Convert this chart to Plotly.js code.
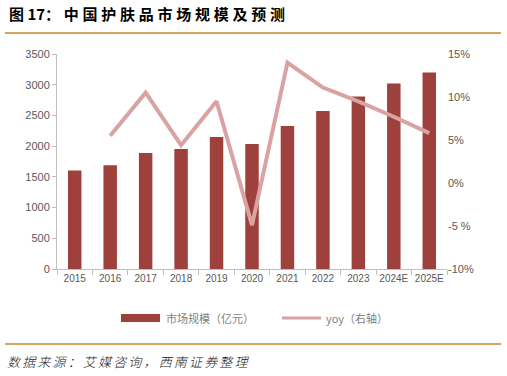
<!DOCTYPE html>
<html><head><meta charset="utf-8">
<script src="https://cdn.plot.ly/plotly-3.0.1.min.js"></script>
<style>body{margin:0;background:#fff}#c{width:507px;height:376px}</style>
</head><body><div id="c"></div>
<script>
const years = ['2015','2016','2017','2018','2019','2020','2021','2022','2023','2024E','2025E'];
const marketSize = [1605, 1690, 1888, 1953, 2149, 2035, 2328, 2572, 2810, 3020, 3200];
const yoyYears = ['2016','2017','2018','2019','2020','2021','2022','2023','2024E','2025E'];
const yoy = [5.5, 10.5, 4.4, 9.5, -4.9, 14.0, 11.1, 9.5, 7.7, 5.8];
const leftTicks = [0,500,1000,1500,2000,2500,3000,3500];
const rightTickVals = [-10,-5,0,5,10,15];
const rightTickText = ['-10%','-5 %','0%','5%','10%','15%'];
const seriesNames = ['市场规模（亿元）','yoy（右轴）'];
const barColor = '#9E403C', lineColor = '#D9A3A3';
const font = 'Liberation Sans, Arial, sans-serif';
const cjk = 'Noto Sans CJK SC, sans-serif';

// pixel -> paper helpers (plot area: x 57..447, y 54..269)
const L=57, W=390, T=54, H=215;
const px = x => (x-L)/W;
const py = y => (T+H-y)/H;
const spaced = (s, sp) => s.split('').join(sp);

const data = [
  {type:'bar', x:years, y:marketSize, name:seriesNames[0], marker:{color:barColor}, width:0.38, showlegend:false},
  {type:'scatter', mode:'lines', x:yoyYears, y:yoy, name:seriesNames[1], yaxis:'y2', line:{color:lineColor, width:4}, showlegend:false}
];
const layout = {
  width:507, height:376,
  margin:{l:L, r:507-L-W, t:T, b:376-T-H},
  paper_bgcolor:'#fff', plot_bgcolor:'#fff',
  showlegend:false,
  xaxis:{type:'category', categoryorder:'array', categoryarray:years, showline:true, linecolor:'#bfbfbf', linewidth:1,
    ticks:'outside', ticklen:5, tickcolor:'#bfbfbf', tickson:'boundaries', showgrid:false, tickangle:0,
    tickfont:{family:font, size:10, color:'#595959'}, range:[-0.5,10.5]},
  yaxis:{range:[0,3500], tickvals:leftTicks, showline:true, linecolor:'#bfbfbf', linewidth:1, ticks:'outside', ticklen:4, tickcolor:'#bfbfbf',
    showgrid:false, zeroline:false, tickfont:{family:font, size:11, color:'#595959'}},
  yaxis2:{overlaying:'y', side:'right', range:[-10,15], tickvals:rightTickVals, ticktext:rightTickText, showgrid:false, zeroline:false,
    showline:false, ticks:'', tickfont:{family:font, size:11, color:'#595959'}},
  shapes:[
    {type:'line', xref:'paper', yref:'paper', x0:px(5), x1:px(501), y0:py(33), y1:py(33), line:{color:'#D4A55E', width:2}},
    {type:'line', xref:'paper', yref:'paper', x0:px(5), x1:px(501), y0:py(344), y1:py(344), line:{color:'#D4A55E', width:2}},
    // legend swatches
    {type:'rect', xref:'paper', yref:'paper', x0:px(121), x1:px(160), y0:py(322), y1:py(314), fillcolor:barColor, line:{width:0}},
    {type:'line', xref:'paper', yref:'paper', x0:px(282), x1:px(321), y0:py(318), y1:py(318), line:{color:lineColor, width:3}}
  ],
  annotations:[
    {xref:'paper', yref:'paper', x:px(7), y:py(13), xanchor:'left', yanchor:'middle', showarrow:false,
     text:'<b>图 17：\u2005'+spaced('中国护肤品市场规模及预测', '\u2005')+'</b>', font:{family:cjk, size:15, color:'#000'}},
    {xref:'paper', yref:'paper', x:px(5), y:py(361), xanchor:'left', yanchor:'middle', showarrow:false,
     text:'<i>'+spaced('数据来源：艾媒咨询，西南证券整理', '\u2006')+'</i>', font:{family:cjk, size:13, color:'#222', weight:300}},
    {xref:'paper', yref:'paper', x:px(164), y:py(318), xanchor:'left', yanchor:'middle', showarrow:false,
     text:seriesNames[0], font:{family:cjk, size:11, color:'#7f7f7f'}},
    {xref:'paper', yref:'paper', x:px(324), y:py(318), xanchor:'left', yanchor:'middle', showarrow:false,
     text:seriesNames[1], font:{family:cjk, size:11, color:'#7f7f7f'}}
  ]
};
Plotly.newPlot('c', data, layout, {displayModeBar:false, staticPlot:true});
</script></body></html>
